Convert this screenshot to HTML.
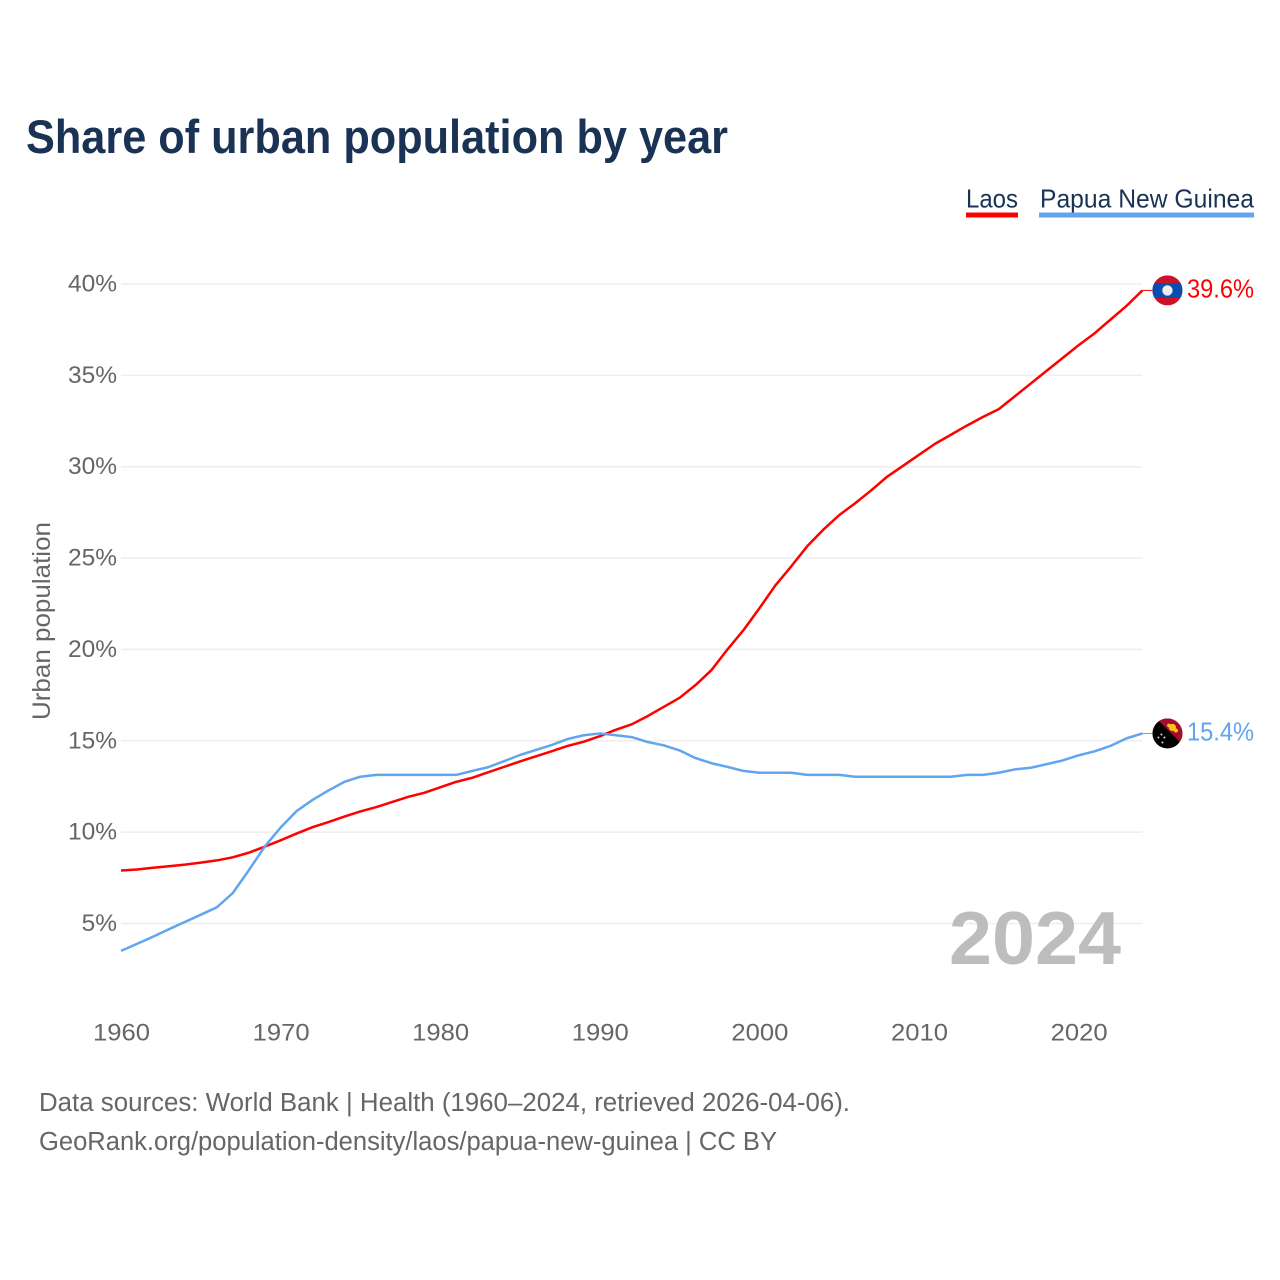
<!DOCTYPE html>
<html lang="en">
<head>
<meta charset="utf-8">
<title>Share of urban population by year</title>
<style>
html,body{margin:0;padding:0;background:#fff;width:1280px;height:1280px;overflow:hidden}
svg{display:block;font-family:"Liberation Sans",sans-serif}
.tick{fill:#666;font-size:24.5px}
.foot{fill:#666;font-size:25.5px}
.leg{fill:#1a3354;font-size:26px}
</style>
</head>
<body>
<svg id="chart" xmlns="http://www.w3.org/2000/svg" width="1280" height="1280" viewBox="0 0 1280 1280">
  <defs>
    <clipPath id="flag-clip"><circle cx="0" cy="0" r="15"/></clipPath>
  </defs>
  <rect x="0" y="0" width="1280" height="1280" fill="#fff"/>
  <text x="26" y="153" font-size="47" font-weight="700" fill="#1a3354" textLength="702" lengthAdjust="spacingAndGlyphs">Share of urban population by year</text>

  <g>
    <text class="leg" x="966" y="207.5" textLength="52" lengthAdjust="spacingAndGlyphs">Laos</text>
    <rect x="966" y="212.5" width="52" height="5" fill="#ff0000"/>
  </g>
  <g>
    <text class="leg" x="1040" y="207.5" textLength="214" lengthAdjust="spacingAndGlyphs">Papua New Guinea</text>
    <rect x="1039" y="212.5" width="215" height="5" fill="#60a5ee"/>
  </g>

  <g id="grid"></g>
  <g id="yticks"></g>
  <g id="xticks"></g>

  <text transform="translate(50,720) rotate(-90)" font-size="25" fill="#666" textLength="198" lengthAdjust="spacingAndGlyphs">Urban population</text>
  <text x="949" y="964" font-size="75" font-weight="700" fill="#bdbdbd" textLength="172" lengthAdjust="spacingAndGlyphs">2024</text>

  <g id="series"></g>

  <g id="flag-laos">
    <g clip-path="url(#flag-clip)">
      <rect x="-15" y="-15" width="30" height="30" fill="#ce1126"/>
      <rect x="-15" y="-7.5" width="30" height="15" fill="#0a4db0"/>
      <circle cx="0" cy="0" r="5.2" fill="#eee"/>
    </g>
  </g>
  <g id="flag-png">
    <g clip-path="url(#flag-clip)">
      <rect x="-15" y="-15" width="30" height="30" fill="#000"/>
      <polygon points="-11,-15 15,-15 15,11" fill="#a50d2a"/>
      <circle cx="5" cy="-6" r="3.6" fill="#fcc21b"/>
      <circle cx="1.5" cy="-8" r="1.8" fill="#fcc21b"/>
      <circle cx="8.5" cy="-3" r="2" fill="#fcc21b"/>
      <circle cx="-6" cy="1" r="1" fill="#ddd"/>
      <circle cx="-3" cy="4" r="1" fill="#ddd"/>
      <circle cx="-9" cy="4" r="1" fill="#ddd"/>
      <circle cx="-5" cy="9" r="1" fill="#ddd"/>
    </g>
  </g>
  <g id="endlabels"></g>

  <text class="foot" x="39" y="1111" textLength="811" lengthAdjust="spacingAndGlyphs">Data sources: World Bank | Health (1960–2024, retrieved 2026-04-06).</text>
  <text class="foot" x="39" y="1150" textLength="738" lengthAdjust="spacingAndGlyphs">GeoRank.org/population-density/laos/papua-new-guinea | CC BY</text>
</svg>
<script>
const startYear = 1960;
const yTicks = [5, 10, 15, 20, 25, 30, 35, 40];
const xTicks = [1960, 1970, 1980, 1990, 2000, 2010, 2020];
const laosValues = [7.9,7.95,8.05,8.13,8.22,8.33,8.45,8.62,8.87,9.2,9.55,9.92,10.27,10.55,10.85,11.13,11.37,11.65,11.93,12.15,12.45,12.75,12.97,13.27,13.57,13.87,14.15,14.43,14.72,14.95,15.25,15.6,15.9,16.35,16.85,17.35,18.05,18.87,20.0,21.05,22.25,23.5,24.55,25.65,26.55,27.35,28.0,28.7,29.45,30.05,30.65,31.25,31.75,32.25,32.72,33.15,33.85,34.55,35.25,35.95,36.65,37.3,38.05,38.8,39.65];
const pngValues = [3.5,3.88,4.27,4.68,5.08,5.48,5.88,6.66,7.9,9.2,10.25,11.15,11.76,12.28,12.75,13.03,13.13,13.13,13.13,13.13,13.13,13.13,13.35,13.55,13.88,14.22,14.5,14.77,15.1,15.3,15.4,15.3,15.2,14.93,14.75,14.47,14.05,13.77,13.57,13.35,13.25,13.25,13.25,13.13,13.13,13.13,13.03,13.03,13.03,13.03,13.03,13.03,13.03,13.13,13.13,13.25,13.43,13.52,13.72,13.92,14.2,14.42,14.72,15.13,15.4];
const endLabels = ["39.6%", "15.4%"];

const NS = "http://www.w3.org/2000/svg";
function xScale(year) { return 121 + (year - 1960) * 15.96; }
function yScale(v) { return 284 + (40 - v) * 18.27; }
function make(tag, parent) {
  const el = document.createElementNS(NS, tag);
  parent.appendChild(el);
  return el;
}

const gridGroup = document.getElementById("grid");
const yGroup = document.getElementById("yticks");
yTicks.forEach(function (t) {
  const line = make("line", gridGroup);
  
  
  line.setAttribute("x1", xScale(1960));
  line.setAttribute("x2", xScale(2024));
  line.setAttribute("y1", yScale(t));
  line.setAttribute("y2", yScale(t));
  line.setAttribute("stroke", "#eeeeee");
  line.setAttribute("stroke-width", "1.5");
  const label = make("text", yGroup);
  
  
  label.setAttribute("class", "tick");
  label.setAttribute("x", 117);
  label.setAttribute("y", yScale(t) + 7.5);
  label.setAttribute("text-anchor", "end");
  label.textContent = t + "%";
});

const xGroup = document.getElementById("xticks");
xTicks.forEach(function (t) {
  const label = make("text", xGroup);
  
  
  label.setAttribute("class", "tick");
  label.setAttribute("x", xScale(t) + 0.5);
  label.setAttribute("y", 1040.5);
  label.setAttribute("text-anchor", "middle");
  label.setAttribute("textLength", "57");
  label.setAttribute("lengthAdjust", "spacingAndGlyphs");
  label.textContent = t;
});

function pointsFor(values) {
  return values.map(function (v, i) {
    return xScale(startYear + i).toFixed(2) + "," + yScale(v).toFixed(2);
  }).join(" ");
}

const seriesGroup = document.getElementById("series");
const endGroup = document.getElementById("endlabels");
const lastYear = startYear + laosValues.length - 1;

const laosLine = make("polyline", seriesGroup);


laosLine.setAttribute("points", pointsFor(laosValues));
laosLine.setAttribute("fill", "none");
laosLine.setAttribute("stroke", "#ff0000");
laosLine.setAttribute("stroke-width", "2.5");
laosLine.setAttribute("stroke-linejoin", "round");

const pngLine = make("polyline", seriesGroup);


pngLine.setAttribute("points", pointsFor(pngValues));
pngLine.setAttribute("fill", "none");
pngLine.setAttribute("stroke", "#60a5ee");
pngLine.setAttribute("stroke-width", "2.5");
pngLine.setAttribute("stroke-linejoin", "round");

const laosY = yScale(laosValues[laosValues.length - 1]);
const pngY = yScale(pngValues[pngValues.length - 1]);

const laosLead = make("line", seriesGroup);


laosLead.setAttribute("x1", xScale(lastYear));
laosLead.setAttribute("x2", xScale(lastYear) + 10);
laosLead.setAttribute("y1", laosY);
laosLead.setAttribute("y2", laosY);
laosLead.setAttribute("stroke", "#ff0000");
laosLead.setAttribute("stroke-width", "1");

const pngLead = make("line", seriesGroup);


pngLead.setAttribute("x1", xScale(lastYear));
pngLead.setAttribute("x2", xScale(lastYear) + 10);
pngLead.setAttribute("y1", pngY);
pngLead.setAttribute("y2", pngY);
pngLead.setAttribute("stroke", "#60a5ee");
pngLead.setAttribute("stroke-width", "1");

document.getElementById("flag-laos").setAttribute("transform", "translate(" + (xScale(lastYear) + 25) + "," + laosY + ")");
document.getElementById("flag-png").setAttribute("transform", "translate(" + (xScale(lastYear) + 25) + "," + pngY + ")");

const laosEnd = make("text", endGroup);


laosEnd.setAttribute("x", 1187);
laosEnd.setAttribute("y", laosY + 7);
laosEnd.setAttribute("font-size", "25.5");
laosEnd.setAttribute("fill", "#ff0000");
laosEnd.setAttribute("textLength", "67");
laosEnd.setAttribute("lengthAdjust", "spacingAndGlyphs");
laosEnd.textContent = endLabels[0];

const pngEnd = make("text", endGroup);


pngEnd.setAttribute("x", 1187);
pngEnd.setAttribute("y", pngY + 7);
pngEnd.setAttribute("font-size", "25.5");
pngEnd.setAttribute("fill", "#60a5ee");
pngEnd.setAttribute("textLength", "67");
pngEnd.setAttribute("lengthAdjust", "spacingAndGlyphs");
pngEnd.textContent = endLabels[1];
</script>
</body>
</html>
